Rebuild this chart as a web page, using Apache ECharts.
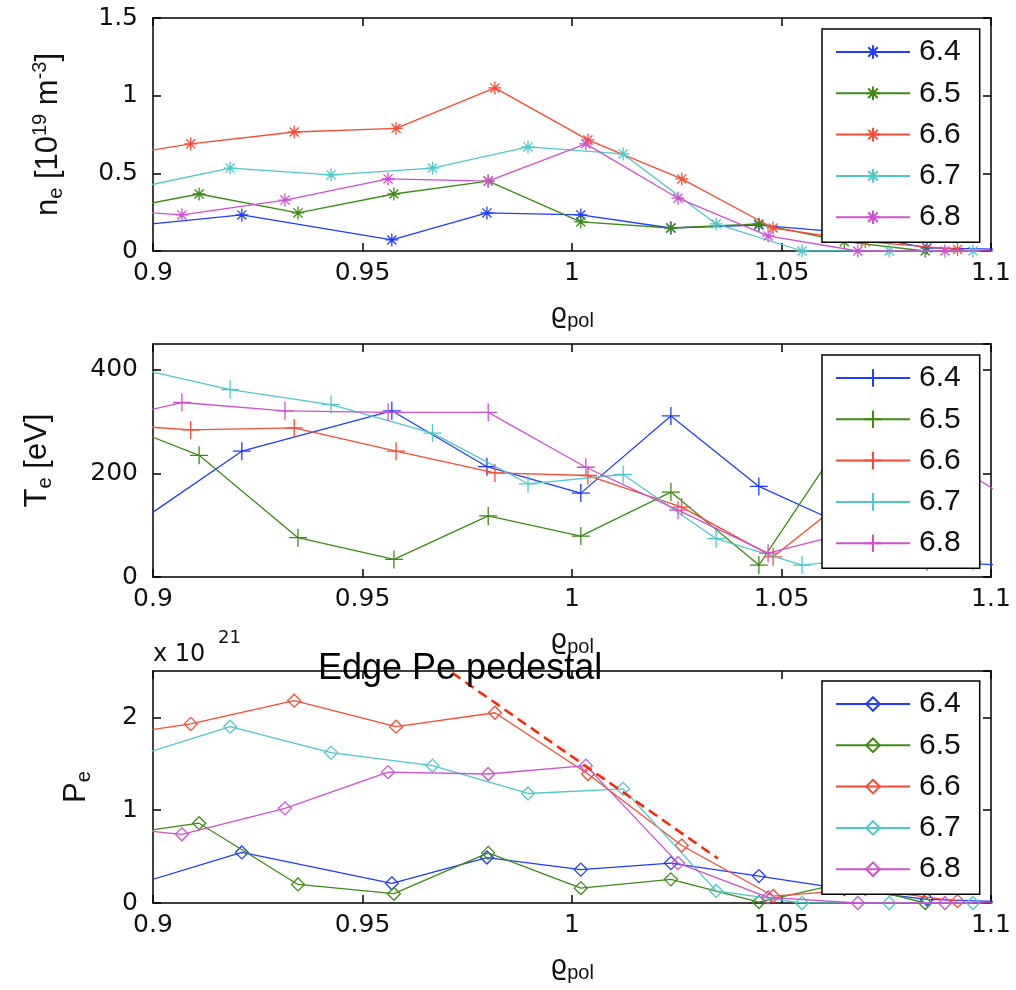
<!DOCTYPE html>
<html><head><meta charset="utf-8">
<script src="https://cdn.jsdelivr.net/npm/echarts@6/dist/echarts.min.js"></script>
<style>html,body{margin:0;padding:0;background:#fff}#c{width:1016px;height:990px}</style>
</head><body><div id="c"></div>
<script>
// ---- data ----
const labels = ['6.4', '6.5', '6.6', '6.7', '6.8'];
const colors = ['#1f3cff', '#3c8c14', '#fa4b32', '#4cc8cc', '#d050d0'];

// rho_pol positions per shot
const xBlue    = [0.898, 0.9212, 0.957, 0.9797, 1.0021, 1.0236, 1.0446, 1.065, 1.0847, 1.105];
const xGreen   = [0.888, 0.911, 0.9346, 0.9575, 0.98, 1.0021, 1.0236, 1.0446, 1.065, 1.0843];
const xRed     = [0.886, 0.909, 0.9337, 0.958, 0.9816, 1.0038, 1.0262, 1.048, 1.07, 1.092];
const xCyan    = [0.896, 0.9184, 0.9425, 0.9667, 0.9895, 1.0122, 1.0344, 1.0549, 1.0757, 1.0957];
const xMagenta = [0.884, 0.9069, 0.9315, 0.9561, 0.98, 1.0033, 1.0253, 1.0468, 1.0682, 1.089, 1.11];

// n_e [1e19 m^-3]
const neBlue    = [0.17, 0.232, 0.071, 0.245, 0.232, 0.148, 0.167, 0.12, 0.02, 0.01];
const neGreen   = [0.248, 0.367, 0.245, 0.367, 0.45, 0.187, 0.148, 0.174, 0.06, 0.0];
const neRed     = [0.588, 0.69, 0.766, 0.79, 1.05, 0.715, 0.464, 0.148, 0.06, 0.01];
const neCyan    = [0.407, 0.534, 0.49, 0.534, 0.67, 0.625, 0.174, 0.0, 0.0, 0.0];
const neMagenta = [0.275, 0.232, 0.328, 0.464, 0.45, 0.69, 0.34, 0.097, 0.0, 0.0, 0.0];

// T_e [eV]
const teBlue    = [114, 243, 321, 213, 162, 311, 175, 100, 30, 22];
const teGreen   = [308, 235, 76, 34, 118, 79, 164, 23, 270, 180];
const teRed     = [297, 284, 288, 243, 201, 196, 135, 39, 180, 150];
const teCyan    = [403, 362, 333, 278, 180, 198, 74, 23, 40, 30];
const teMagenta = [294, 337, 321, 318, 318, 212, 129, 46, 90, 230, 120];

// P_e [x1e21]
const peBlue    = [0.228, 0.545, 0.212, 0.49, 0.36, 0.43, 0.29, 0.15, 0.04, 0.01];
const peGreen   = [0.714, 0.86, 0.2, 0.10, 0.54, 0.16, 0.255, 0.01, 0.22, 0.0];
const peRed     = [1.776, 1.93, 2.18, 1.90, 2.05, 1.39, 0.62, 0.075, 0.15, 0.02];
const peCyan    = [1.584, 1.90, 1.62, 1.48, 1.18, 1.23, 0.13, 0.0, 0.0, 0.0];
const peMagenta = [0.84, 0.74, 1.02, 1.41, 1.39, 1.48, 0.43, 0.06, 0.0, 0.0, 0.0];

// axis settings
const xTicks = {min: 0.9, max: 1.1, interval: 0.05};
const neAxis = {min: 0, max: 1.5, interval: 0.5};
const teAxis = {min: 0, max: 450, interval: 200};
const peAxis = {min: 0, max: 2.5, interval: 1};

// annotation: pedestal slope line (data coords)
const pedestalLine = [[0.9714, 2.48], [1.0348, 0.48]];
const pedestalText = 'Edge Pe pedestal';

// ---- build ----
const xs = [xBlue, xGreen, xRed, xCyan, xMagenta];
const panels = [
  {key: 'ne', ys: [neBlue, neGreen, neRed, neCyan, neMagenta], axis: neAxis,
   symbol: 'path://M0,-1L0,1M-1,0L1,0M-0.7,-0.7L0.7,0.7M-0.7,0.7L0.7,-0.7', size: 13, fill: true,
   yname: '{m|n}{s|e}{m| [10}{p|19}{m| m}{p|-3}{m|]}', ygap: 87, legendH: 17,
   grid: {left: 153, top: 18, width: 838, height: 233}, legendTop: 29},
  {key: 'te', ys: [teBlue, teGreen, teRed, teCyan, teMagenta], axis: teAxis,
   symbol: 'path://M0,-1L0,1M-1,0L1,0', size: 18, fill: true,
   yname: '{m|T}{s|e}{m| [eV]}', ygap: 98, legendH: 22,
   grid: {left: 153, top: 344, width: 838, height: 233}, legendTop: 355},
  {key: 'pe', ys: [peBlue, peGreen, peRed, peCyan, peMagenta], axis: peAxis,
   symbol: 'path://M0,-1L1,0L0,1L-1,0Z', size: 13, fill: false,
   yname: '{m|P}{s|e}', ygap: 59, legendH: 17,
   grid: {left: 153, top: 671, width: 838, height: 232}, legendTop: 681}
];

const black = '#000';
const tickFont = {fontFamily: 'DejaVu Sans', fontSize: 25, color: '#111'};
const grids = [], xAxes = [], yAxes = [], series = [], legends = [];

panels.forEach((p, gi) => {
  grids.push(Object.assign({outerBoundsMode: 'none', containLabel: false}, p.grid));
  const axLine = {show: true, onZero: false, lineStyle: {color: black, width: 1.5}};
  const axTick = {show: true, inside: true, length: 8, lineStyle: {color: black, width: 1.5}};
  xAxes.push({
    type: 'value', gridIndex: gi, position: 'bottom', ...xTicks,
    axisLine: axLine, axisTick: axTick, splitLine: {show: false},
    axisLabel: Object.assign({margin: 10, formatter: v => String(+v.toFixed(2))}, tickFont),
    name: '{r|\u03F1}{s|pol}', nameLocation: 'middle', nameGap: 48,
    nameTextStyle: {color: '#000', rich: {
      r: {fontFamily: 'DejaVu Sans', fontSize: 27, lineHeight: 32, color: '#111'},
      s: {fontFamily: 'Liberation Sans', fontSize: 20, lineHeight: 16, verticalAlign: 'bottom', color: '#111'}
    }}
  });
  xAxes.push({
    type: 'value', gridIndex: gi, position: 'top', ...xTicks,
    axisLine: axLine, axisTick: axTick, splitLine: {show: false}, axisLabel: {show: false}
  });
  yAxes.push({
    type: 'value', gridIndex: gi, position: 'left', ...p.axis,
    axisLine: axLine, axisTick: axTick, splitLine: {show: false},
    axisLabel: Object.assign({margin: 15, showMaxLabel: p.key === 'ne'}, tickFont),
    name: p.yname, nameLocation: 'middle', nameGap: p.ygap,
    nameTextStyle: {color: '#000', rich: {
      m: {fontFamily: 'Liberation Sans', fontSize: 31, lineHeight: 36, color: '#111'},
      s: {fontFamily: 'Liberation Sans', fontSize: 20, lineHeight: 16, verticalAlign: 'bottom', color: '#111'},
      p: {fontFamily: 'Liberation Sans', fontSize: 20, lineHeight: 20, verticalAlign: 'top', color: '#111'}
    }}
  });
  yAxes.push({
    type: 'value', gridIndex: gi, position: 'right', ...p.axis,
    axisLine: axLine, axisTick: axTick, splitLine: {show: false}, axisLabel: {show: false}
  });
  const names = [];
  labels.forEach((lab, si) => {
    const c = colors[si];
    const name = p.key + ' ' + lab;
    names.push(name);
    const s = {
      type: 'line', name: name, xAxisIndex: gi * 2, yAxisIndex: gi * 2,
      data: xs[si].map((x, i) => [x, p.ys[si][i]]),
      symbol: p.symbol, symbolSize: p.size, showAllSymbol: true, clip: true,
      lineStyle: {color: c, width: 1.3},
      itemStyle: {color: p.fill ? c : 'rgba(0,0,0,0)', borderColor: c, borderWidth: 1.3},
      emphasis: {disabled: true}, animation: false, z: 2 + si * 0.01
    };
    if (p.key === 'pe' && lab === '6.6') {
      s.markLine = {
        silent: true, symbol: ['none', 'none'], animation: false,
        label: {show: false},
        lineStyle: {color: '#ff2200', width: 2.5, type: [10, 6]},
        emphasis: {disabled: true},
        data: [[{coord: pedestalLine[0]}, {coord: pedestalLine[1]}]]
      };
    }
    series.push(s);
  });
  legends.push({
    orient: 'vertical', left: 822, top: p.legendTop, data: names,
    formatter: n => n.split(' ')[1],
    itemWidth: 74, itemHeight: p.legendH, itemGap: 11.3,
    padding: [8, 19, 10, 13], backgroundColor: '#fff',
    borderColor: black, borderWidth: 1.5, borderRadius: 0,
    selectedMode: false, z: 5,
    textStyle: {fontFamily: 'Liberation Sans', fontSize: 30, lineHeight: 30, color: '#111', padding: [0, 0, 0, 4]}
  });
});

const chart = echarts.init(document.getElementById('c'), null, {renderer: 'canvas'});
chart.setOption({
  animation: false,
  backgroundColor: '#fff',
  grid: grids, xAxis: xAxes, yAxis: yAxes, series: series, legend: legends,
  graphic: [
    {type: 'text', x: 318, y: 669, z: 10, silent: true,
     style: {text: pedestalText, fontFamily: 'Liberation Sans', fontSize: 36, fill: '#000', verticalAlign: 'middle'}},
    {type: 'text', x: 153, y: 667, z: 10, silent: true,
     style: {text: 'x 10', fontFamily: 'DejaVu Sans', fontSize: 24, fill: '#111', verticalAlign: 'bottom'}},
    {type: 'text', x: 218, y: 647, z: 10, silent: true,
     style: {text: '21', fontFamily: 'DejaVu Sans', fontSize: 18, fill: '#111', verticalAlign: 'bottom'}}
  ]
});
</script></body></html>
